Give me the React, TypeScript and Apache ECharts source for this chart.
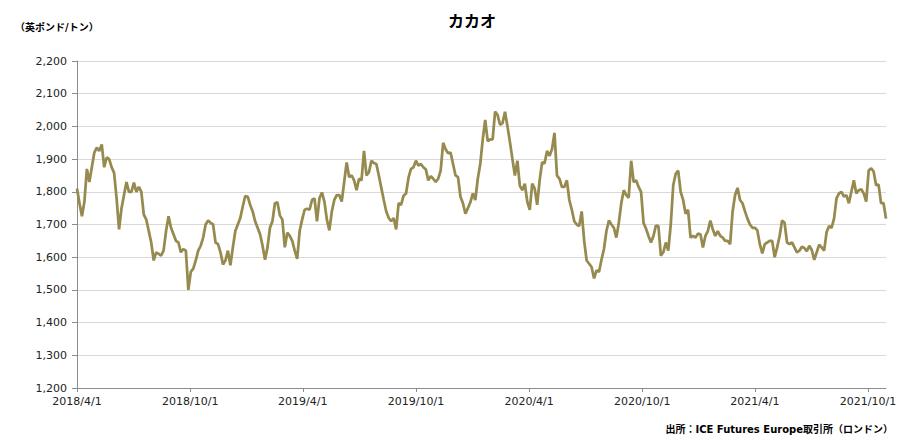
import React, { useEffect, useRef } from "react";
import * as echarts from "echarts";

const sampleStartYear = 2018;
const sampleStartMonth = 4;
const sampleStartDay = 1;
const sampleStepDays = 4;

const price2018a = [
  1810, 1765, 1725, 1770, 1870, 1830, 1875, 1920, 1935, 1925, 1945, 1875, 1905, 1900, 1875, 1858, 1780, 1685,
  1750, 1790, 1830, 1800, 1800, 1828, 1800, 1815, 1800, 1730, 1715, 1680, 1645, 1590, 1615, 1610, 1605, 1620,
  1680, 1725, 1690, 1670, 1650, 1645, 1615, 1625, 1620, 1500, 1555, 1565, 1590, 1620, 1635, 1660, 1700, 1712,
];
const price2018b = [
  1705, 1700, 1645, 1640, 1615, 1578, 1590, 1620, 1575, 1630, 1680, 1700, 1720, 1755, 1787, 1785, 1760, 1740,
  1710, 1690, 1670, 1635, 1592, 1630, 1690, 1710, 1765, 1768, 1728, 1715, 1630, 1675, 1665, 1650, 1620, 1595,
  1680, 1715, 1745, 1748, 1745, 1775, 1780, 1710, 1780, 1798, 1770, 1715, 1682, 1740, 1775, 1790, 1790, 1770, 1830,
];
const price2019 = [
  1890, 1845, 1850, 1835, 1805, 1840, 1835, 1925, 1850, 1860, 1895, 1888, 1885, 1850, 1812, 1775, 1740, 1720,
  1710, 1720, 1685, 1765, 1760, 1788, 1795, 1843, 1870, 1875, 1895, 1880, 1885, 1875, 1868, 1835, 1848, 1840,
  1830, 1840, 1865, 1950, 1930, 1918, 1920, 1885, 1850, 1845, 1785, 1765, 1733, 1750, 1768, 1795, 1775, 1840,
];
const price2020a = [
  1885, 1960, 2020, 1955, 1960, 1960, 2045, 2035, 2005, 2010, 2045, 2000, 1952, 1900, 1850, 1895, 1818, 1805,
  1825, 1770, 1745, 1825, 1810, 1760, 1835, 1890, 1887, 1925, 1910, 1930, 1980, 1850, 1840, 1815, 1815, 1835,
  1775, 1745, 1710, 1700, 1695, 1740, 1650, 1590, 1580, 1570, 1535, 1560, 1555, 1592, 1625, 1680, 1712, 1700, 1690,
];
const price2020b = [
  1660, 1705, 1765, 1805, 1790, 1782, 1895, 1830, 1835, 1815, 1800, 1705, 1687, 1665, 1645, 1665, 1697, 1695,
  1605, 1615, 1645, 1620, 1700, 1820, 1855, 1865, 1800, 1775, 1733, 1745, 1660, 1665, 1660, 1672, 1670, 1630,
  1665, 1680, 1712, 1685, 1665, 1680, 1665, 1660, 1650, 1650, 1640, 1740, 1790, 1812, 1775, 1765, 1740, 1718, 1700,
];
const price2021 = [
  1690, 1690, 1682, 1640, 1612, 1640, 1645, 1650, 1650, 1600, 1630, 1665, 1712, 1705, 1645, 1640, 1645, 1630,
  1615, 1620, 1632, 1628, 1618, 1635, 1622, 1592, 1615, 1638, 1630, 1620, 1677, 1695, 1690, 1718, 1780, 1795,
  1800, 1785, 1790, 1765, 1800, 1835, 1795, 1805, 1808, 1795, 1770, 1865, 1872, 1862, 1820, 1822, 1765, 1765, 1718,
];
const priceValues = [...price2018a, ...price2018b, ...price2019, ...price2020a, ...price2020b, ...price2021];

const xTickLabels = ["2018/4/1", "2018/10/1", "2019/4/1", "2019/10/1", "2020/4/1", "2020/10/1", "2021/4/1", "2021/10/1"];
const xAxisStart = "2018/4/1";
const xAxisEnd = "2021/10/30";
const yMin = 1200;
const yMax = 2200;
const yInterval = 100;

const titleText = "カカオ";
const unitText = "（英ポンド/トン）";
const sourceText = "出所：ICE Futures Europe取引所（ロンドン）";

const lineColor = "#978a4e";
const axisColor = "#8c8c8c";
const gridColor = "#d9d9d9";
const textColor = "#222222";
const fontFamily = "Verdana, 'DejaVu Sans', 'Noto Sans CJK JP', sans-serif";

function toTime(s: string): number {
  const [y, m, d] = s.split("/").map(Number);
  return new Date(y, m - 1, d).getTime();
}

export default function App() {
  const ref = useRef<HTMLDivElement>(null);

  useEffect(() => {
    document.body.style.margin = "0";
    if (!ref.current) return;
    const chart = echarts.init(ref.current, undefined, { renderer: "svg" });

    const seriesData = priceValues.map((v, i) => [
      new Date(sampleStartYear, sampleStartMonth - 1, sampleStartDay + i * sampleStepDays).getTime(),
      v,
    ]);
    const tickTimes = xTickLabels.map(toTime);

    chart.setOption({
      animation: false,
      backgroundColor: "#ffffff",
      title: {
        text: titleText,
        left: 443,
        top: 7,
        textStyle: { fontSize: 16, fontWeight: "bold", color: "#000", fontFamily: "'Noto Sans CJK JP', sans-serif" },
      },
      grid: { left: 77, right: 24, top: 61, bottom: 52, containLabel: false },
      xAxis: {
        type: "value",
        min: toTime(xAxisStart),
        max: toTime(xAxisEnd),
        axisLine: { show: true, lineStyle: { color: axisColor, width: 1 } },
        axisTick: { show: true, customValues: tickTimes, length: 4, lineStyle: { color: axisColor } },
        axisLabel: {
          customValues: tickTimes,
          formatter: (val: number) => {
            const d = new Date(val);
            return `${d.getFullYear()}/${d.getMonth() + 1}/${d.getDate()}`;
          },
          fontSize: 11,
          color: textColor,
          fontFamily,
          margin: 8,
        },
        splitLine: { show: false },
      },
      yAxis: {
        type: "value",
        min: yMin,
        max: yMax,
        interval: yInterval,
        axisLine: { show: true, lineStyle: { color: axisColor, width: 1 } },
        axisTick: { show: true, length: 5, lineStyle: { color: axisColor } },
        axisLabel: {
          formatter: (v: number) => v.toLocaleString("en-US"),
          fontSize: 11,
          color: textColor,
          fontFamily,
          margin: 10,
        },
        splitLine: { show: true, lineStyle: { color: gridColor, width: 1 } },
      },
      series: [
        {
          type: "line",
          data: seriesData,
          showSymbol: false,
          symbol: "none",
          lineStyle: { color: lineColor, width: 2.75 },
          itemStyle: { color: lineColor },
        },
      ],
      graphic: [
        {
          type: "text",
          left: 15,
          top: 22,
          style: { text: unitText, fontSize: 10, fontWeight: "bold", fill: "#000", fontFamily },
        },
        {
          type: "text",
          right: 17,
          top: 424,
          style: { text: sourceText, fontSize: 10, fontWeight: "bold", fill: "#000", fontFamily },
        },
      ],
    });

    return () => chart.dispose();
  }, []);

  return <div ref={ref} style={{ width: 910, height: 440 }} />;
}
